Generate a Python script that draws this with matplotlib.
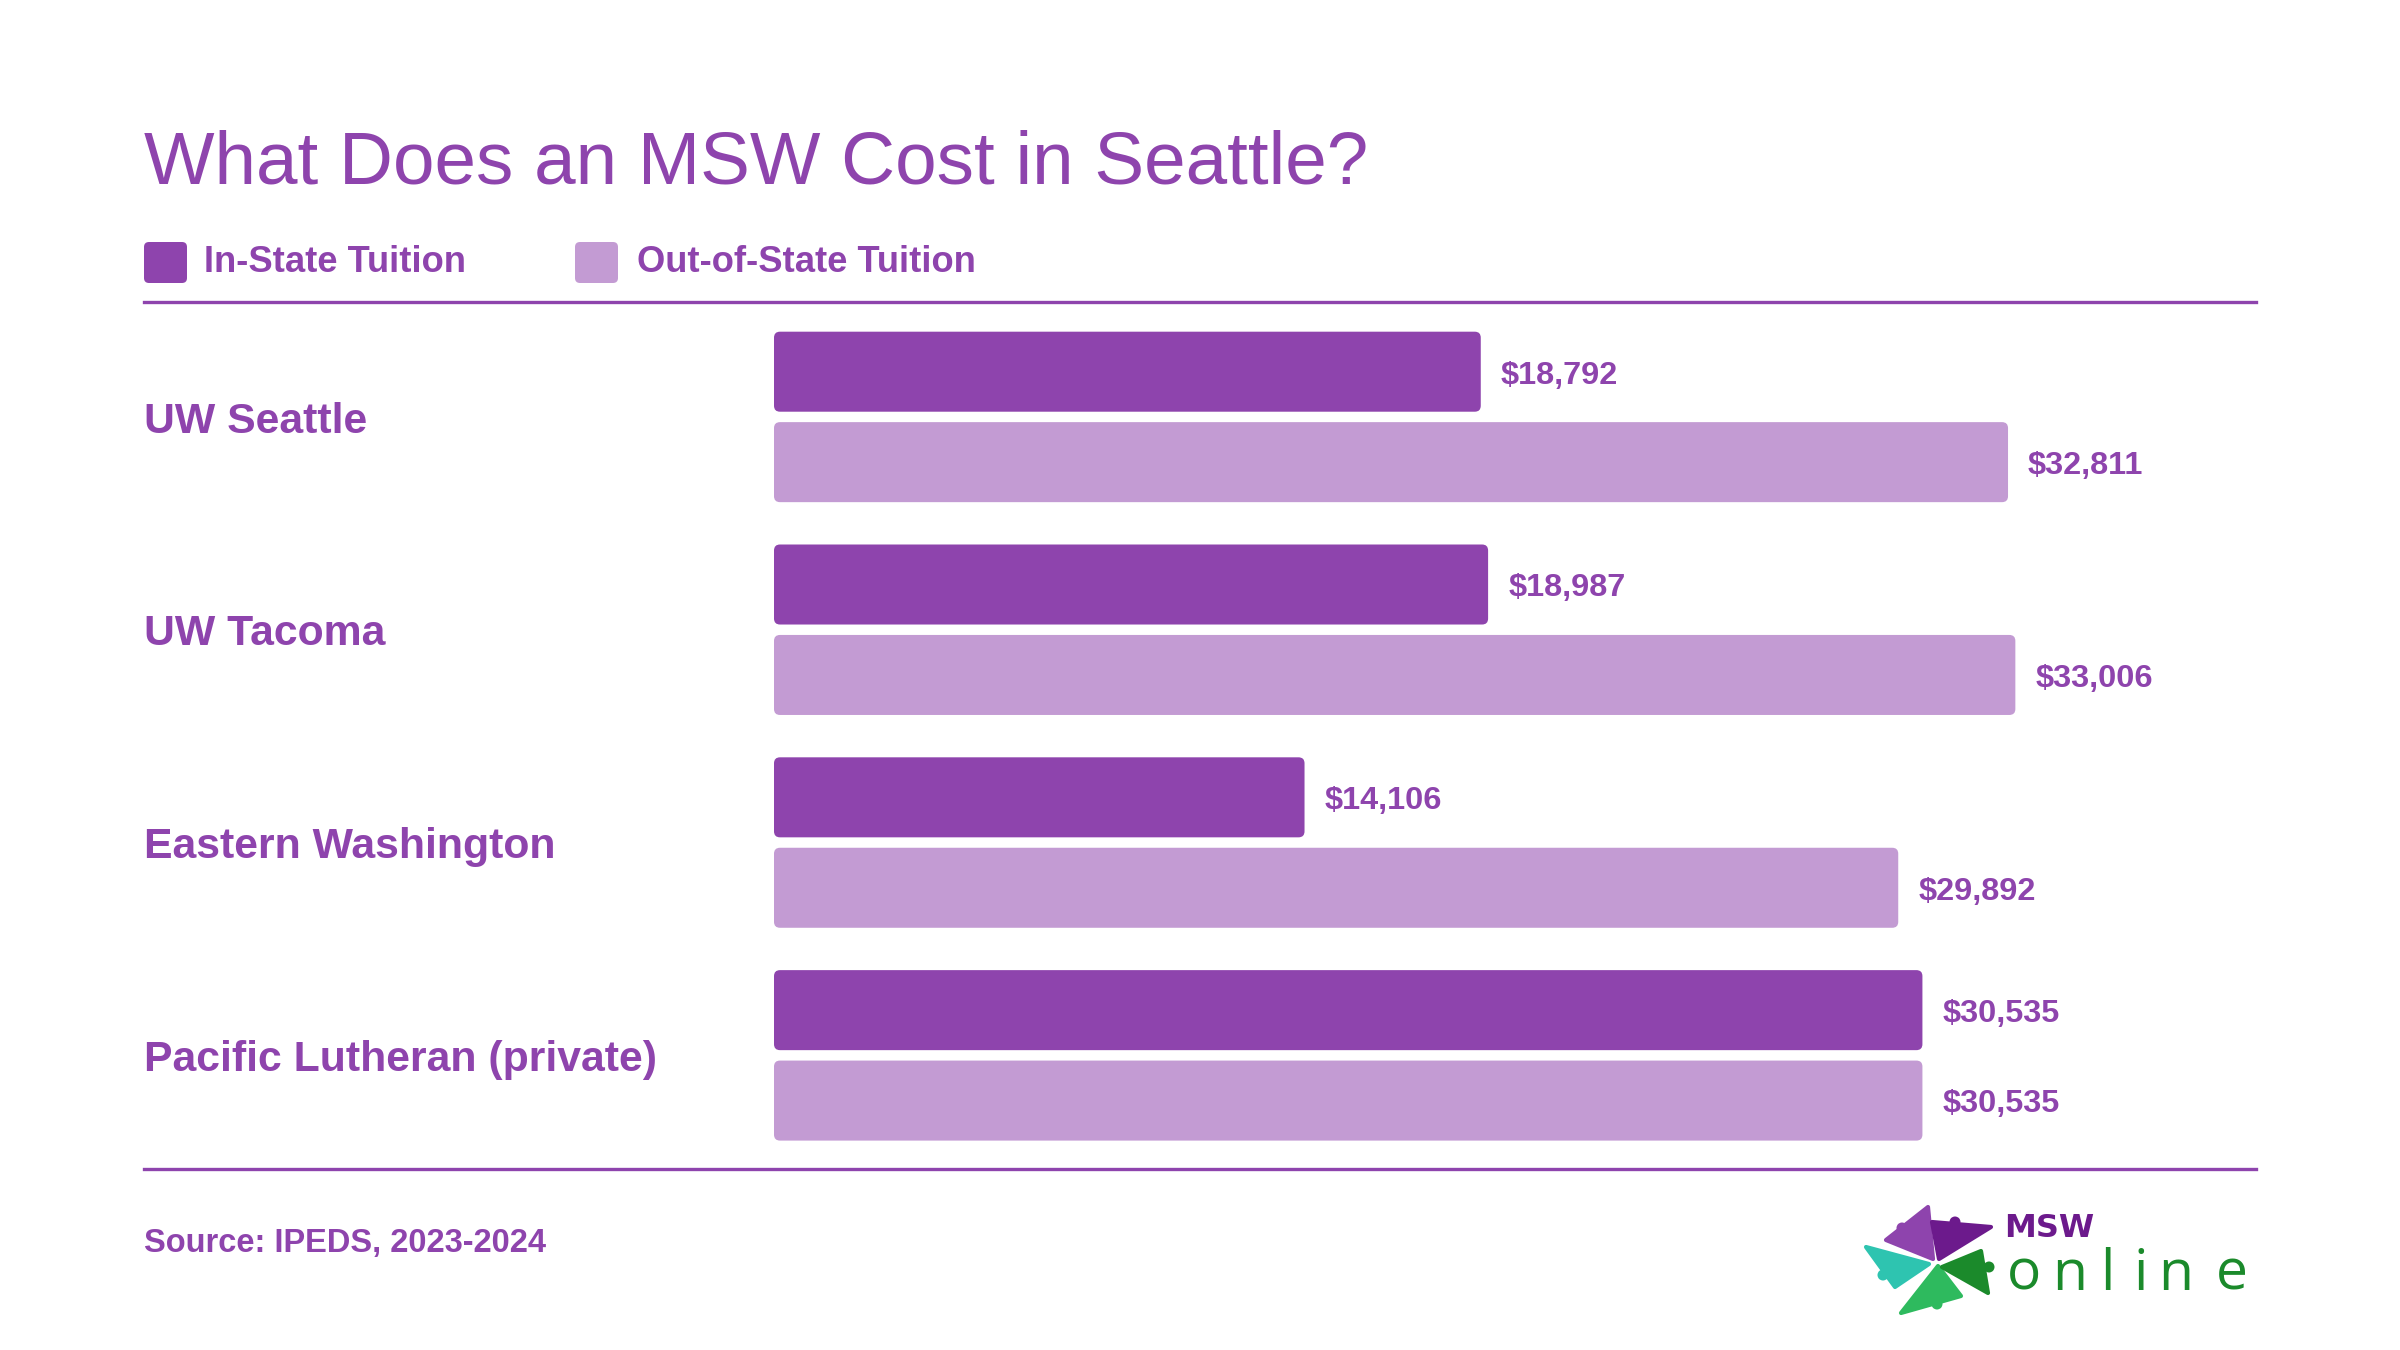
import matplotlib
matplotlib.use("Agg")
import matplotlib.pyplot as plt
from matplotlib.patches import FancyBboxPatch, Polygon, Circle
from matplotlib.lines import Line2D

# ---- data ----
schools = ["UW Seattle", "UW Tacoma", "Eastern Washington", "Pacific Lutheran (private)"]
in_state = [18792, 18987, 14106, 30535]
out_state = [32811, 33006, 29892, 30535]
series_names = ["In-State Tuition", "Out-of-State Tuition"]
title = "What Does an MSW Cost in Seattle?"
source = "Source: IPEDS, 2023-2024"

DARK = "#8E44AD"
LIGHT = "#C39BD3"
TXT = "#8E44AD"
FONT = "Liberation Sans"
CAP = 0.729  # cap height / em for Liberation Sans

W, H = 2400, 1350
DPI = 200
fig = plt.figure(figsize=(W / DPI, H / DPI), dpi=DPI)
fig.patch.set_facecolor("white")


def fx(px):
    return px / W


def fy(py):
    return 1 - py / H


def cap_text(xpx, ypx_center, s, fs, **kw):
    """Place text so its capitals are vertically centred on ypx_center."""
    cap_px = CAP * fs * DPI / 72
    fig.text(fx(xpx), fy(ypx_center + cap_px / 2), s, ha="left", va="baseline",
             fontsize=fs, color=TXT, family=FONT, **kw)


# ---- main axes ----
left_px, right_px, top_px, bot_px = 774, 2256, 302, 1169
ax = fig.add_axes([fx(left_px), fy(bot_px), fx(right_px - left_px), (bot_px - top_px) / H])
ax.set_xlim(0, (right_px - left_px) / 0.03761)
ax.set_ylim(3.534, -0.54)
ax.axis("off")

n = len(schools)
idx = list(range(n))
off = 0.2125
bh = 0.376
b1 = ax.barh([i - off for i in idx], in_state, height=bh, color=DARK)
b2 = ax.barh([i + off for i in idx], out_state, height=bh, color=LIGHT)

# convert to rounded bars
fig.canvas.draw()
p0 = ax.transData.transform((0, 0))
p1 = ax.transData.transform((1, 1))
px_per_x = abs(p1[0] - p0[0])
px_per_y = abs(p1[1] - p0[1])
r_px = 6
for cont in (b1, b2):
    for rect in cont.patches:
        x, y = rect.get_x(), rect.get_y()
        w, h = rect.get_width(), rect.get_height()
        fb = FancyBboxPatch((x, y), w, h,
                            boxstyle=f"round,pad=0,rounding_size={r_px / px_per_x}",
                            mutation_aspect=px_per_x / px_per_y,
                            facecolor=rect.get_facecolor(), edgecolor="none")
        ax.add_patch(fb)
        rect.set_visible(False)

# value labels
VFS = 11.7
for cont, vals in ((b1, in_state), (b2, out_state)):
    for rect, v in zip(cont.patches, vals):
        ax.annotate(f"${v:,}", (v, rect.get_y() + rect.get_height() / 2),
                    xytext=(7.2, -CAP * VFS / 2), textcoords="offset points",
                    ha="left", va="baseline", fontsize=VFS, fontweight="bold",
                    color=TXT, family=FONT)

# category labels
CFS = 15.4
for i, s in zip(idx, schools):
    ax.annotate(s, (fx(144), i), xycoords=("figure fraction", "data"),
                xytext=(0, -CAP * CFS / 2), textcoords="offset points",
                ha="left", va="baseline", fontsize=CFS, fontweight="bold",
                color=TXT, family=FONT)

# ---- title ----
fig.text(fx(144), fy(184), title, ha="left", va="baseline", fontsize=26.9,
         color=TXT, family=FONT)

# ---- legend ----
leg_x = [144, 575]
leg_tx = [204, 637]
for lx, tx, name, col in zip(leg_x, leg_tx, series_names, [DARK, LIGHT]):
    sq = FancyBboxPatch((fx(lx), fy(283)), fx(43), 41 / H,
                        boxstyle=f"round,pad=0,rounding_size={5 / W}",
                        mutation_aspect=W / H, transform=fig.transFigure,
                        facecolor=col, edgecolor="none")
    fig.add_artist(sq)
    cap_text(tx, 259, name, 13.1, fontweight="bold")

# ---- rules ----
for yy in (302, 1169):
    fig.add_artist(Line2D([fx(144), fx(2256)], [fy(yy), fy(yy)],
                          transform=fig.transFigure, color=DARK, lw=1.2))

# ---- source ----
cap_text(144, 1240, source, 11.75, fontweight="bold")

# ---- logo (pixel-coordinate inset) ----
lx0, lx1, ly0, ly1 = 1855, 2000, 1200, 1320
lax = fig.add_axes([fx(lx0), fy(ly1), fx(lx1 - lx0), (ly1 - ly0) / H])
lax.set_xlim(lx0, lx1)
lax.set_ylim(ly1, ly0)
lax.axis("off")
arms = [
    ([(1928, 1207), (1886, 1240), (1933, 1259)], "#8E44AD", (1902, 1228)),
    ([(1932, 1222), (1991, 1227), (1939, 1259)], "#6C1A8C", (1955, 1222)),
    ([(1866, 1247), (1929, 1264), (1895, 1287)], "#2EC4B0", (1883, 1275)),
    ([(1938, 1266), (1901, 1313), (1961, 1296)], "#2EBA5E", (1937, 1304)),
    ([(1942, 1267), (1981, 1251), (1988, 1293)], "#1B8A2B", (1989, 1267)),
]
for pts, col, dot in arms:
    lax.add_patch(Polygon(pts, closed=True, facecolor=col, edgecolor=col,
                          lw=1.5, joinstyle="round"))
    lax.add_patch(Circle(dot, 5.5, facecolor=col, edgecolor="none"))

fig.text(fx(2004), fy(1237), "MSW", ha="left", va="baseline", fontsize=11.5,
         fontweight="heavy", color="#6C1A8C", family="DejaVu Sans")
letters = ["o", "n", "l", "i", "n", "e"]
centers = [2024, 2070, 2107, 2141, 2176, 2232]
for ch, cx in zip(letters, centers):
    fig.text(fx(cx), fy(1290), ch, ha="center", va="baseline", fontsize=20.5,
             color="#1B8A2B", family="Open Sans")

fig.savefig("out.png", dpi=DPI, facecolor="white")
